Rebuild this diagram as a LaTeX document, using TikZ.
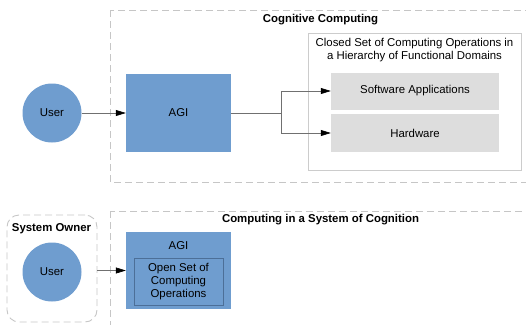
\documentclass[tikz,border=0pt]{standalone}
\usepackage{fontspec}
\setmainfont{Liberation Sans}
\usetikzlibrary{arrows.meta}

\definecolor{agiblue}{HTML}{6F9DCF}
\definecolor{agiedge}{HTML}{4C6F98}
\definecolor{domgray}{HTML}{DDDDDD}
\definecolor{boxgray}{HTML}{CCCCCC}
\definecolor{dashgray}{HTML}{C6C6C6}
\definecolor{linegray}{HTML}{707070}

\begin{document}
\begin{tikzpicture}
  [x=1pt,y=-1pt,every node/.style={font=\fontsize{11.4}{13}\selectfont,align=center,inner sep=0pt},
   user/.style={circle,fill=agiblue,minimum size=59pt},
   agi/.style={rectangle,fill=agiblue,minimum width=105pt},
   domainbox/.style={rectangle,fill=domgray,minimum width=168pt,minimum height=37pt},
   dashframe/.style={draw=dashgray,line width=0.9pt,dash pattern=on 7pt off 4pt},
   headline/.style={font=\fontsize{11.4}{13}\selectfont\bfseries},
   link/.style={draw=linegray,line width=0.6pt},
   arrowline/.style={link,-{Triangle[length=10pt,width=6pt,color=black]}}]
  \useasboundingbox (0,0) rectangle (526,324);
  \draw[dashframe] (110,10) rectangle (545,182);
  \draw[dashframe] (110,211) rectangle (545,345);
  \node[headline] (cogtitle) at (320.5,20) {Cognitive Computing};
  \node[headline] (systitle) at (320.5,220) {Computing in a System of Cognition};
  \node[user] (user1) at (52,113) {User};
  \node[agi,minimum height=78pt] (agi1) at (178.5,113) {AGI};
  \node[draw=boxgray,line width=0.9pt,minimum width=213pt,minimum height=137pt] (closed) at (414.5,101.5) {};
  \node (closedtxt) at (414.5,50) {Closed Set of Computing Operations in\\a Hierarchy of Functional Domains};
  \node[domainbox] (soft) at (415,91) {Software Applications};
  \node[domainbox,minimum height=38pt] (hard) at (415,133) {Hardware};
  \coordinate (split) at (281,113);
  \node[dashframe,rounded corners=12pt,minimum width=90pt,minimum height=107pt] (owner) at (52,268.5) {};
  \node[headline] (ownertitle) at (51.5,229) {System Owner};
  \node[user] (user2) at (52,272) {User};
  \node[agi,minimum height=77pt] (agi2) at (178.5,270.5) {};
  \node (agilabel) at (178.5,246) {AGI};
  \node[draw=agiedge,line width=0.6pt,minimum width=89pt,minimum height=47pt] (open) at (178.5,281.5) {Open Set of\\Computing\\Operations};
  \draw[arrowline] (user1) -- (agi1);
  \draw[link] (agi1) -- (split);
  \foreach \to in {soft,hard}
    \draw[arrowline] (split) |- (\to);
  \draw[arrowline] (owner.east |- agi2) -- (agi2);
\end{tikzpicture}
\end{document}
